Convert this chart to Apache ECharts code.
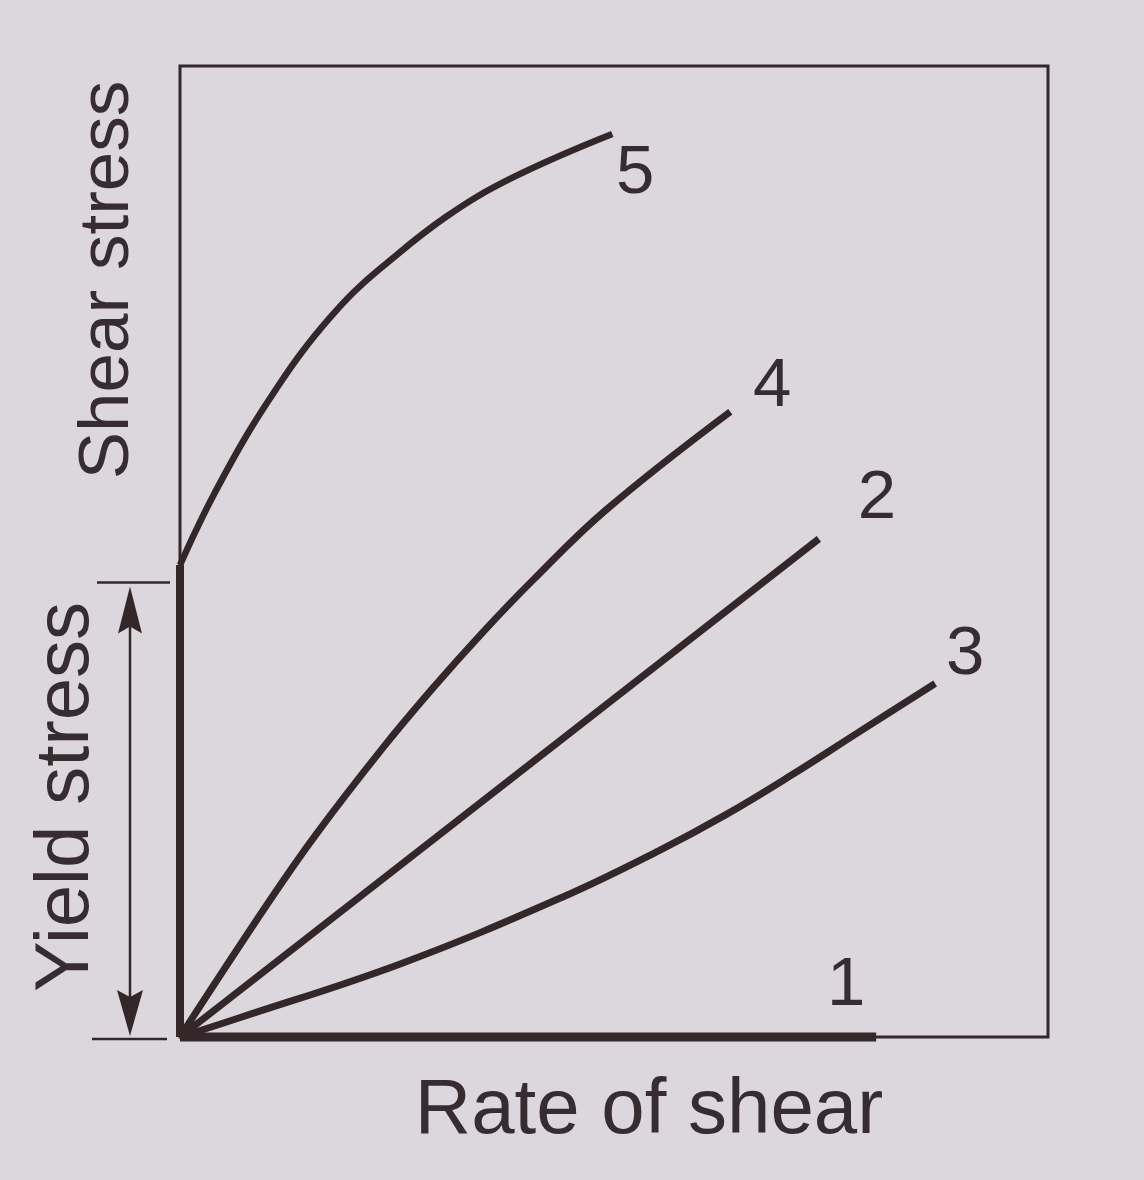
<!DOCTYPE html>
<html>
<head>
<meta charset="utf-8">
<script src="https://cdn.jsdelivr.net/npm/echarts@6/dist/echarts.min.js"></script>
<style>
  html, body { margin: 0; padding: 0; background: #dcd7dd; }
  #chart { width: 1144px; height: 1180px; }
</style>
</head>
<body>
<div id="chart"></div>
<script>
// ---- Data (rate of shear, shear stress), arbitrary units 0..100 ----
const curve1 = [[0, 0], [80.2, 0]];
const curve2 = [[0, 0], [73.6, 51.3]];
const curve3 = [[0, 0], [6.6, 1.9], [25.6, 7.6], [44.3, 14.5], [55.2, 19.2], [62.9, 22.9], [70.5, 27.0], [78.2, 31.4], [87.0, 36.4]];
const curve4 = [[0, 0], [10.3, 14.0], [15.7, 20.9], [23.3, 29.7], [29.1, 35.9], [34.8, 41.6], [40.6, 47.0], [49.1, 54.3], [63.4, 64.4]];
const curve5 = [[0, 48.6], [1.8, 52.1], [3.8, 55.7], [7.7, 62.0], [11.5, 67.3], [14.1, 70.6], [17.2, 74.0], [20.0, 76.7], [23.0, 79.1], [30.7, 84.5], [38.3, 88.5], [49.8, 93.0]];
const yieldMark = 46.8;             // dimensioned yield stress
const curveNames = ['1', '2', '3', '4', '5'];
const xTitle = 'Rate of shear';
const yTitle = 'Shear stress';
const yieldTitle = 'Yield stress';

// ---- Styling ----
const INK = '#33272a';
const TXT = '#372d30';
const FONT = "'Liberation Sans', Arial, Helvetica, sans-serif";

const curves = [curve1, curve2, curve3, curve4, curve5];
const widths = [9, 7, 7, 7, 6.5];
const labelOffsets = [[-30, -51], [58, -40], [30, -29], [42, -25], [23, 40]];

const series = curves.map((c, i) => ({
  type: 'line',
  name: curveNames[i],
  data: c,
  smooth: c.length > 2 ? 0.4 : false,
  symbol: 'none',
  clip: false,
  silent: true,
  lineStyle: { color: INK, width: widths[i], cap: 'butt', join: 'round' },
  z: 3
}));

// thick vertical yield segment of curve 5 along the stress axis
series.push({
  type: 'line',
  data: [[0, 0], [0, curve5[0][1]]],
  symbol: 'none',
  clip: false,
  silent: true,
  lineStyle: { color: INK, width: 8, cap: 'butt' },
  z: 3
});

// curve number labels at the end of each curve
series.push({
  type: 'scatter',
  symbolSize: 0,
  clip: false,
  silent: true,
  itemStyle: { opacity: 1 },
  data: curves.map((c, i) => ({
    value: c[c.length - 1],
    label: {
      show: true,
      position: 'inside',
      offset: labelOffsets[i],
      formatter: curveNames[i],
      fontSize: 69,
      fontFamily: FONT,
      color: TXT,
      opacity: 1
    }
  })),
  z: 4
});

// yield stress dimension arrow
series.push({
  type: 'custom',
  clip: false,
  silent: true,
  data: [[0, yieldMark]],
  renderItem: function (params, api) {
    const p0 = api.coord([0, 0]);
    const p1 = api.coord([0, api.value(1)]);
    const ax = p0[0] - 50;
    const yTop = p1[1];
    const yBot = p0[1] + 2;
    const st = { stroke: INK, lineWidth: 2.5, fill: null };
    return {
      type: 'group',
      children: [
        { type: 'line', shape: { x1: p0[0] - 83, y1: yTop, x2: p0[0] - 10, y2: yTop }, style: st },
        { type: 'line', shape: { x1: p0[0] - 88, y1: yBot, x2: p0[0] - 13, y2: yBot }, style: st },
        { type: 'line', shape: { x1: ax, y1: yTop + 20, x2: ax, y2: yBot - 20 }, style: st },
        { type: 'polygon', shape: { points: [[ax, yTop + 4], [ax - 12, yTop + 51], [ax, yTop + 44], [ax + 12, yTop + 51]] }, style: { fill: INK } },
        { type: 'polygon', shape: { points: [[ax, yBot - 3], [ax - 13, yBot - 49], [ax, yBot - 42], [ax + 13, yBot - 49]] }, style: { fill: INK } }
      ]
    };
  },
  z: 3
});

const chart = echarts.init(document.getElementById('chart'), null, { renderer: 'canvas' });
chart.setOption({
  backgroundColor: '#dcd7dd',
  animation: false,
  grid: {
    left: 180, right: 96, top: 66, bottom: 143,
    show: true, borderColor: INK, borderWidth: 3, backgroundColor: 'transparent'
  },
  xAxis: { type: 'value', min: 0, max: 100, show: false },
  yAxis: { type: 'value', min: 0, max: 100, show: false },
  graphic: [
    { type: 'text', x: 649, y: 1111, style: { text: xTitle, fontSize: 78, fontFamily: FONT, fill: TXT, align: 'center', verticalAlign: 'middle' } },
    { type: 'text', x: 108, y: 280, rotation: Math.PI / 2, style: { text: yTitle, fontSize: 71, fontFamily: FONT, fill: TXT, align: 'center', verticalAlign: 'middle' } },
    { type: 'text', x: 67, y: 797, rotation: Math.PI / 2, style: { text: yieldTitle, fontSize: 76, fontFamily: FONT, fill: TXT, align: 'center', verticalAlign: 'middle' } }
  ],
  series: series
});
</script>
</body>
</html>
